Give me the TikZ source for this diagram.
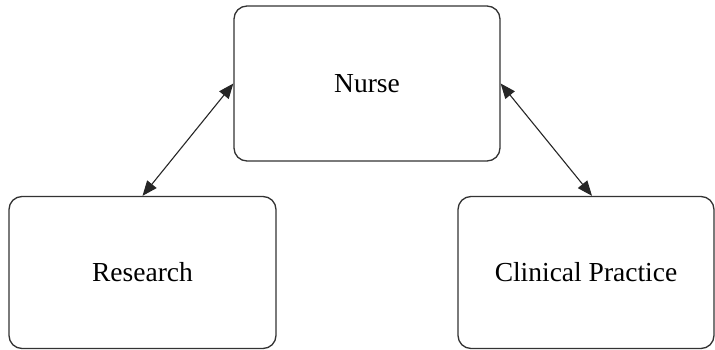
\documentclass[tikz,border=0pt]{standalone}
\usepackage{fontspec}
\setmainfont{Liberation Serif}
\usetikzlibrary{arrows.meta}
\begin{document}
\begin{tikzpicture}[x=1pt,y=-1pt,
  box/.style={draw=black!80, line width=1.3pt, rounded corners=13pt, fill=white,
    inner sep=0pt, font=\fontsize{27.5}{33}\selectfont},
  link/.style={draw=black!85, line width=1.1pt,
    {Triangle[length=15pt,width=12pt]}-{Triangle[length=15pt,width=12pt]}}]
\useasboundingbox (0,0) rectangle (715,350);
\node[box, minimum width=266pt, minimum height=155pt] (nurse) at (367,83.5) {Nurse};
\node[box, minimum width=267pt, minimum height=152pt] (research) at (142.5,272.5) {Research};
\node[box, minimum width=256pt, minimum height=152pt] (clinical) at (586,272.5) {Clinical Practice};
\draw[link] (research.north) -- (nurse.west);
\draw[link] (nurse.east) -- ([xshift=6pt]clinical.north);
\end{tikzpicture}
\end{document}
